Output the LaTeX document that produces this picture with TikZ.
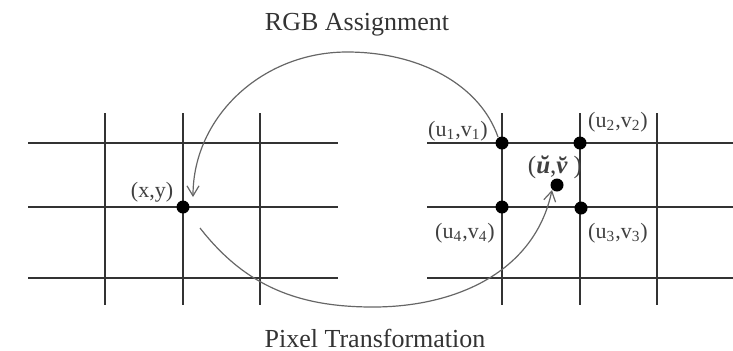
\documentclass[tikz,border=0pt]{standalone}
\usepackage{fontspec}
\setmainfont{Liberation Serif}
\usetikzlibrary{arrows.meta}
\begin{document}
\begin{tikzpicture}[x=0.5pt,y=-0.5pt,
  gridline/.style={line width=0.8pt, draw=black!80},
  dot/.style={circle, fill=black, inner sep=0pt, minimum size=6.5pt},
  lbl/.style={font=\fontsize{11}{12}\selectfont, text=black!75, inner sep=1pt},
  ttl/.style={font=\fontsize{13}{15}\selectfont, text=black!80},
  arcline/.style={draw=black!60, line width=0.6pt, -{Straight Barb[length=5pt,width=6pt]}}]
\useasboundingbox (0,0) rectangle (733,350);
% left grid
\foreach \y in {143,207,278} \draw[gridline] (28,\y) -- (338,\y);
\foreach \x in {105,183,260} \draw[gridline] (\x,113) -- (\x,305);
% right grid
\foreach \y in {143,207,278} \draw[gridline] (427,\y) -- (733,\y);
\foreach \x in {502,580,657} \draw[gridline] (\x,113) -- (\x,305);
% dots
\node[dot] (xy) at (183,207) {};
\node[dot] (u1) at (502,143) {};
\node[dot] (u2) at (580,143) {};
\node[dot] (u4) at (502,207) {};
\node[dot] (u3) at (581,208) {};
\node[dot] (uv) at (557,185) {};
% labels
\node[lbl] (lxy) at (152,192) {(x,y)};
\node[lbl] (lu1) at (458,131) {(u\textsubscript{1},v\textsubscript{1})};
\node[lbl] (lu2) at (618,122) {(u\textsubscript{2},v\textsubscript{2})};
\node[lbl] (lu4) at (465,233) {(u\textsubscript{4},v\textsubscript{4})};
\node[lbl] (lu3) at (618,233) {(u\textsubscript{3},v\textsubscript{3})};
\node[lbl, font=\fontsize{12.5}{14}\selectfont] (luv) at (555,167) {(\textbf{\textit{\u{u}}},\textbf{\textit{\u{v}}})};
% titles
\node[ttl] (t1) at (357,25) {RGB Assignment};
\node[ttl] (t2) at (375,338) {Pixel Transformation};
% arcs
\coordinate (topc) at (347,52);
\coordinate (botc) at (373,307);
\coordinate (s1) at (498,137);
\coordinate (e1) at (193,197);
\coordinate (s2) at (200,228);
\coordinate (e2) at (552,190);
\draw[arcline] (s1) .. controls (480,85) and (420,52) .. (topc)
  .. controls (262,52) and (193,117) .. (e1);
\draw[arcline] (s2) to[out=-52,in=180] (botc) to[out=0,in=-102] (e2);
\end{tikzpicture}
\end{document}
